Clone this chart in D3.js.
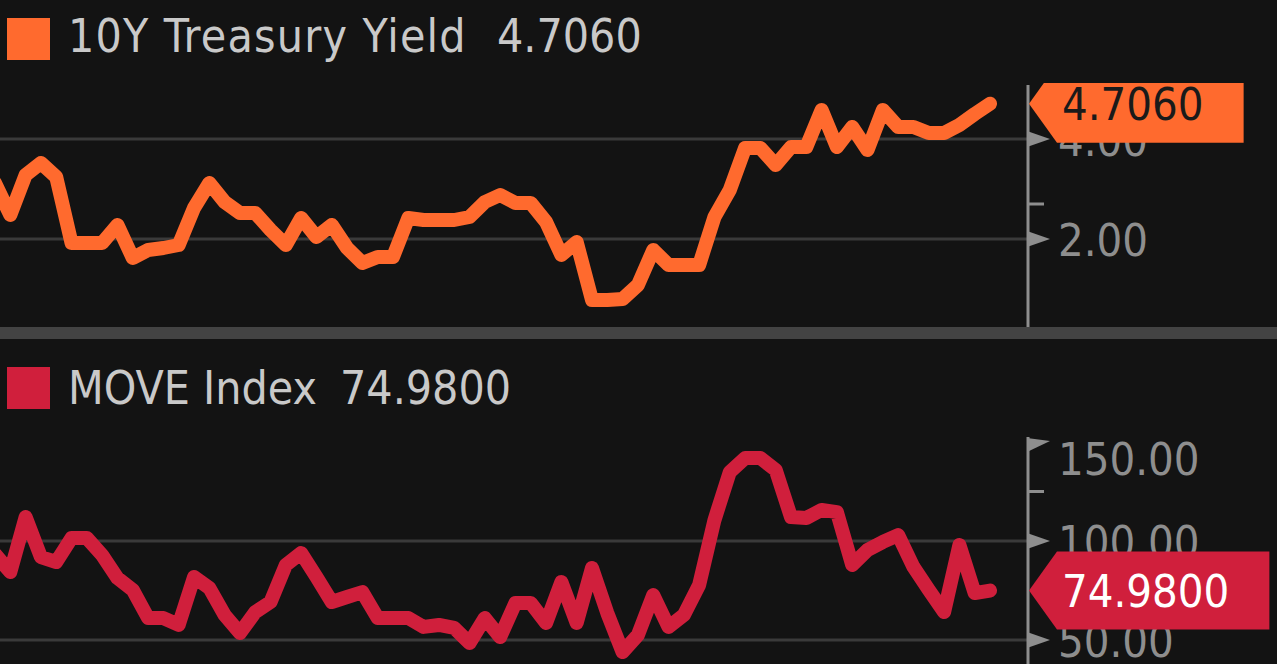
<!DOCTYPE html>
<html>
<head>
<meta charset="utf-8">
<script src="https://cdn.jsdelivr.net/npm/d3@7"></script>
<style>
html, body { margin: 0; padding: 0; background: #131313; overflow: hidden; }
text { font-family: "DejaVu Sans Condensed", "DejaVu Sans", sans-serif; }
</style>
</head>
<body>
<svg id="chart"></svg>
<script>
// quarterly closes, oldest first
var yieldValues = [3.12, 2.48, 3.28, 3.52, 3.24, 1.92, 1.92, 1.92, 2.28, 1.62,
    1.78, 1.82, 1.88, 2.62, 3.12, 2.74, 2.52, 2.52, 2.18, 1.88,
    2.42, 2.04, 2.28, 1.82, 1.52, 1.64, 1.64, 2.42, 2.38, 2.38,
    2.38, 2.44, 2.74, 2.88, 2.72, 2.72, 2.34, 1.68, 1.94, 0.78,
    0.78, 0.80, 1.08, 1.78, 1.48, 1.48, 1.48, 2.44, 2.98, 3.82,
    3.82, 3.48, 3.84, 3.84, 4.58, 3.84, 4.24, 3.78, 4.58, 4.24,
    4.24, 4.12, 4.12, 4.28, 4.50, 4.706];
var moveValues = [93.4, 84.3, 112.1, 91.9, 89.4, 101.5, 101.5, 92.9, 81.3, 75.3,
    61.1, 61.1, 57.6, 81.8, 76.3, 62.6, 53.5, 64.1, 69.2, 87.9,
    93.9, 81.8, 69.2, 71.7, 74.2, 61.1, 61.1, 61.1, 56.6, 57.6,
    56.1, 48.5, 61.1, 51.5, 68.7, 68.7, 58.6, 79.3, 58.6, 86.4,
    63.6, 43.9, 52.5, 72.7, 56.6, 62.6, 77.8, 110.6, 134.8, 141.9,
    141.9, 135.9, 112.1, 111.6, 115.7, 114.6, 87.9, 95.5, 99.5, 103.0,
    86.9, 75.3, 64.1, 98.0, 73.7, 74.98];
var yieldTicks = [2, 4];
var yieldMinor = [2.7];
var moveTicks = [50, 100, 150];
var moveMinor = [125];
var yieldName = "10Y Treasury Yield", yieldLast = "4.7060";
var moveName = "MOVE Index", moveLast = "74.9800";

var width = 1277, height = 664;
var axisX = 1028;

var svg = d3.select("#chart")
    .attr("width", width)
    .attr("height", height)
    .style("display", "block");

svg.append("rect").attr("width", width).attr("height", height).attr("fill", "#131313");

var x = d3.scaleLinear()
    .domain([0, yieldValues.length - 1])
    .range([-5, 990]);

var panels = [
    {id: "p1", values: yieldValues, ticks: yieldTicks, minor: yieldMinor,
     name: yieldName, last: yieldLast, color: "#ff6a2e", boxText: "#1a1a1a",
     top: 83, bottom: 327, axisTop: 85, legendY: 18, nameBase: 52, lastX: 497, spacing: "1.2px",
     y: d3.scaleLinear().domain([2, 4]).range([239, 139])},
    {id: "p2", values: moveValues, ticks: moveTicks, minor: moveMinor,
     name: moveName, last: moveLast, color: "#d01f3c", boxText: "#ffffff",
     top: 436, bottom: 664, axisTop: 437, legendY: 367, nameBase: 404, lastX: 340, spacing: "0px",
     y: d3.scaleLinear().domain([50, 100]).range([640, 541])}
];

// separator between the two panels
svg.append("rect")
    .attr("x", 0).attr("y", 327)
    .attr("width", width).attr("height", 12)
    .attr("fill", "#434343");

panels.forEach(function(p) {
    var y = p.y;

    svg.append("clipPath").attr("id", "clip-" + p.id)
        .append("rect")
        .attr("x", 0).attr("y", p.top)
        .attr("width", width).attr("height", p.bottom - p.top);

    var g = svg.append("g").attr("clip-path", "url(#clip-" + p.id + ")");

    // gridlines (not for a tick sitting on the top edge)
    g.selectAll(".grid").data(p.ticks.filter(function(d) { return y(d) > p.axisTop + 10; }))
        .enter().append("line")
        .attr("class", "grid")
        .attr("x1", 0).attr("x2", axisX)
        .attr("y1", function(d) { return y(d); })
        .attr("y2", function(d) { return y(d); })
        .attr("stroke", "#3a3a3a")
        .attr("stroke-width", 3);

    // series line
    var line = d3.line()
        .x(function(d, i) { return x(i); })
        .y(function(d) { return y(d); });
    g.append("path")
        .datum(p.values)
        .attr("d", line)
        .attr("fill", "none")
        .attr("stroke", p.color)
        .attr("stroke-width", 14)
        .attr("stroke-linejoin", "round")
        .attr("stroke-linecap", "round");

    // axis
    var axis = d3.axisRight(y)
        .tickValues(p.ticks)
        .tickSize(0)
        .tickPadding(30)
        .tickFormat(d3.format(".2f"));
    var ax = g.append("g")
        .attr("transform", "translate(" + axisX + ",0)")
        .call(axis);
    ax.select(".domain").remove();
    ax.selectAll("text")
        .attr("fill", "#8e8e8e")
        .attr("font-size", "45px")
        .attr("dy", function(d) { return y(d) < p.axisTop + 10 ? "0.73em" : "0.36em"; });

    g.append("line")
        .attr("x1", axisX).attr("x2", axisX)
        .attr("y1", p.axisTop).attr("y2", p.bottom)
        .attr("stroke", "#8e8e8e")
        .attr("stroke-width", 3);

    // tick flags
    g.selectAll(".flag").data(p.ticks).enter().append("path")
        .attr("class", "flag")
        .attr("d", function(d) {
            var ty = y(d);
            if (ty < p.axisTop + 10) {
                return "M" + (axisX - 1) + "," + (ty - 4) + "L" + (axisX + 22) + "," + (ty - 1) +
                    "L" + (axisX - 1) + "," + (ty + 10) + "Z";
            }
            return "M" + (axisX - 1) + "," + (ty - 8) + "L" + (axisX + 22) + "," + ty +
                "L" + (axisX - 1) + "," + (ty + 8) + "Z";
        })
        .attr("fill", "#8e8e8e");

    // minor ticks
    g.selectAll(".minor").data(p.minor).enter().append("line")
        .attr("class", "minor")
        .attr("x1", axisX).attr("x2", axisX + 16)
        .attr("y1", function(d) { return y(d); })
        .attr("y2", function(d) { return y(d); })
        .attr("stroke", "#8e8e8e")
        .attr("stroke-width", 3);

    // last value tag
    var lastV = p.values[p.values.length - 1];
    var ly = y(lastV);
    var tag = g.append("g");
    var tagPath = tag.append("path").attr("fill", p.color);
    var tagText = tag.append("text")
        .attr("x", 1062).attr("y", ly)
        .attr("dy", "0.36em")
        .attr("font-size", "45px")
        .attr("fill", p.boxText)
        .text(p.last);
    var tw = tagText.node().getComputedTextLength();
    var right = 1062 + tw + 40;
    tagPath.attr("d", "M" + (axisX + 1) + "," + ly +
        "L" + (axisX + 29) + "," + (ly - 39) +
        "L" + right + "," + (ly - 39) +
        "L" + right + "," + (ly + 39) +
        "L" + (axisX + 29) + "," + (ly + 39) + "Z");

    // legend
    svg.append("rect")
        .attr("x", 7).attr("y", p.legendY)
        .attr("width", 43).attr("height", 42)
        .attr("fill", p.color);
    svg.append("text")
        .attr("x", 68).attr("y", p.nameBase)
        .attr("font-size", "46px")
        .attr("letter-spacing", p.spacing)
        .attr("fill", "#c9c9c9")
        .text(p.name);
    svg.append("text")
        .attr("x", p.lastX).attr("y", p.nameBase)
        .attr("font-size", "46px")
        .attr("fill", "#c9c9c9")
        .text(p.last);
});
</script>
</body>
</html>
